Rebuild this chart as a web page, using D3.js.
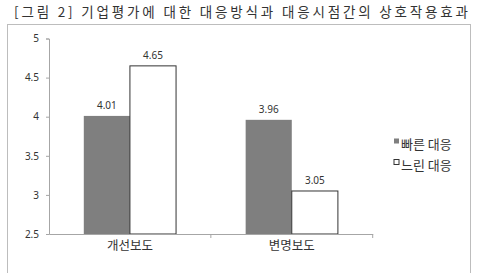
<!DOCTYPE html>
<head>
  <meta charset="UTF-8">
  <style>
    body { margin: 0; background: #fff; }
    text { font-family: "Noto Sans CJK KR", "Noto Sans", sans-serif; }
  </style>
  <title>기업평가에 대한 대응방식과 대응시점간의 상호작용효과</title>
</head>
<body>
  <script src="https://cdn.jsdelivr.net/npm/d3@7"></script>
  <script>
    // data
    var categories = ["개선보도", "변명보도"];
    var series = ["빠른 대응", "느린 대응"];
    var fastValues = [4.01, 3.96];
    var slowValues = [4.65, 3.05];
    var yTicks = [2.5, 3, 3.5, 4, 4.5, 5];
    var title = "[그림 2] 기업평가에 대한 대응방식과 대응시점간의 상호작용효과";

    var width = 480, height = 273;
    var plotLeft = 49, plotRight = 372.7, plotTop = 38.5, plotBottom = 234;
    var axisColor = "#a6a6a6";
    var fills = { "빠른 대응": "#7f7f7f", "느린 대응": "#ffffff" };

    var svg = d3.select("body").append("svg")
      .attr("width", width)
      .attr("height", height)
      .style("display", "block");

    // title
    svg.append("text")
      .attr("x", 14).attr("y", 17)
      .attr("font-size", 13.5)
      .attr("fill", "#333")
      .attr("textLength", 454)
      .attr("lengthAdjust", "spacing")
      .text(title);

    // chart frame
    svg.append("rect")
      .attr("x", 7.5).attr("y", 24.5)
      .attr("width", 463).attr("height", 260)
      .attr("fill", "none")
      .attr("stroke", "#bdbdbd")
      .attr("stroke-width", 1);

    var rows = categories.map(function(c, i) {
      return { cat: c, values: [fastValues[i], slowValues[i]] };
    });

    var y = d3.scaleLinear().domain([2.5, 5]).range([plotBottom, plotTop]);
    var x0 = d3.scaleBand().domain(categories).range([plotLeft, plotRight])
      .paddingInner(0.43).paddingOuter(0.215);
    var x1 = d3.scaleBand().domain(series).range([0, x0.bandwidth()]);

    // y axis
    var yAxis = svg.append("g")
      .attr("transform", "translate(" + plotLeft + ",0)")
      .call(d3.axisLeft(y).tickValues(yTicks).tickSize(3).tickPadding(7)
        .tickFormat(function(d) { return String(d); }));
    yAxis.select(".domain").attr("stroke", axisColor);
    yAxis.selectAll(".tick line").attr("stroke", axisColor);
    yAxis.selectAll(".tick text")
      .attr("font-size", 10).attr("fill", "#333")
      .style("font-family", "'Noto Sans', sans-serif");

    // bars
    var groups = svg.append("g").selectAll("g")
      .data(rows).enter().append("g")
      .attr("transform", function(d) { return "translate(" + x0(d.cat) + ",0)"; });

    groups.selectAll("rect")
      .data(function(d) { return d.values.map(function(v, j) { return { s: series[j], v: v }; }); })
      .enter().append("rect")
      .attr("x", function(d) { return x1(d.s); })
      .attr("y", function(d) { return y(d.v); })
      .attr("width", x1.bandwidth())
      .attr("height", function(d) { return plotBottom - y(d.v); })
      .attr("fill", function(d) { return fills[d.s]; })
      .attr("stroke", function(d) { return d.s === "느린 대응" ? "#333" : "none"; })
      .attr("stroke-width", 1);

    groups.selectAll("text.val")
      .data(function(d) { return d.values.map(function(v, j) { return { s: series[j], v: v }; }); })
      .enter().append("text")
      .attr("class", "val")
      .attr("x", function(d) { return x1(d.s) + x1.bandwidth() / 2; })
      .attr("y", function(d) { return y(d.v) - 7; })
      .attr("text-anchor", "middle")
      .attr("font-size", 10)
      .attr("fill", "#333")
      .style("font-family", "'Noto Sans', sans-serif")
      .text(function(d) { return d.v.toFixed(2); });

    // x axis with ticks between categories
    var xAxis = svg.append("g")
      .attr("transform", "translate(0," + plotBottom + ")")
      .call(d3.axisBottom(x0).tickSize(0).tickPadding(7));
    xAxis.select(".domain").attr("stroke", axisColor);
    xAxis.selectAll(".tick text")
      .attr("font-size", 12.5).attr("fill", "#333");
    xAxis.selectAll("line.sep")
      .data([plotLeft + x0.step(), plotRight])
      .enter().append("line")
      .attr("class", "sep")
      .attr("x1", function(d) { return d; }).attr("x2", function(d) { return d; })
      .attr("y1", 0).attr("y2", 4)
      .attr("stroke", axisColor);

    // legend
    var legend = svg.append("g").selectAll("g")
      .data(series).enter().append("g")
      .attr("transform", function(d, i) { return "translate(394," + (138.5 + i * 21) + ")"; });
    legend.append("rect")
      .attr("width", 5).attr("height", 5)
      .attr("fill", function(d) { return fills[d]; })
      .attr("stroke", function(d) { return d === "느린 대응" ? "#333" : "none"; });
    legend.append("text")
      .attr("x", 7).attr("y", 10)
      .attr("font-size", 13).attr("fill", "#333")
      .text(function(d) { return d; });
  </script>
</body>
